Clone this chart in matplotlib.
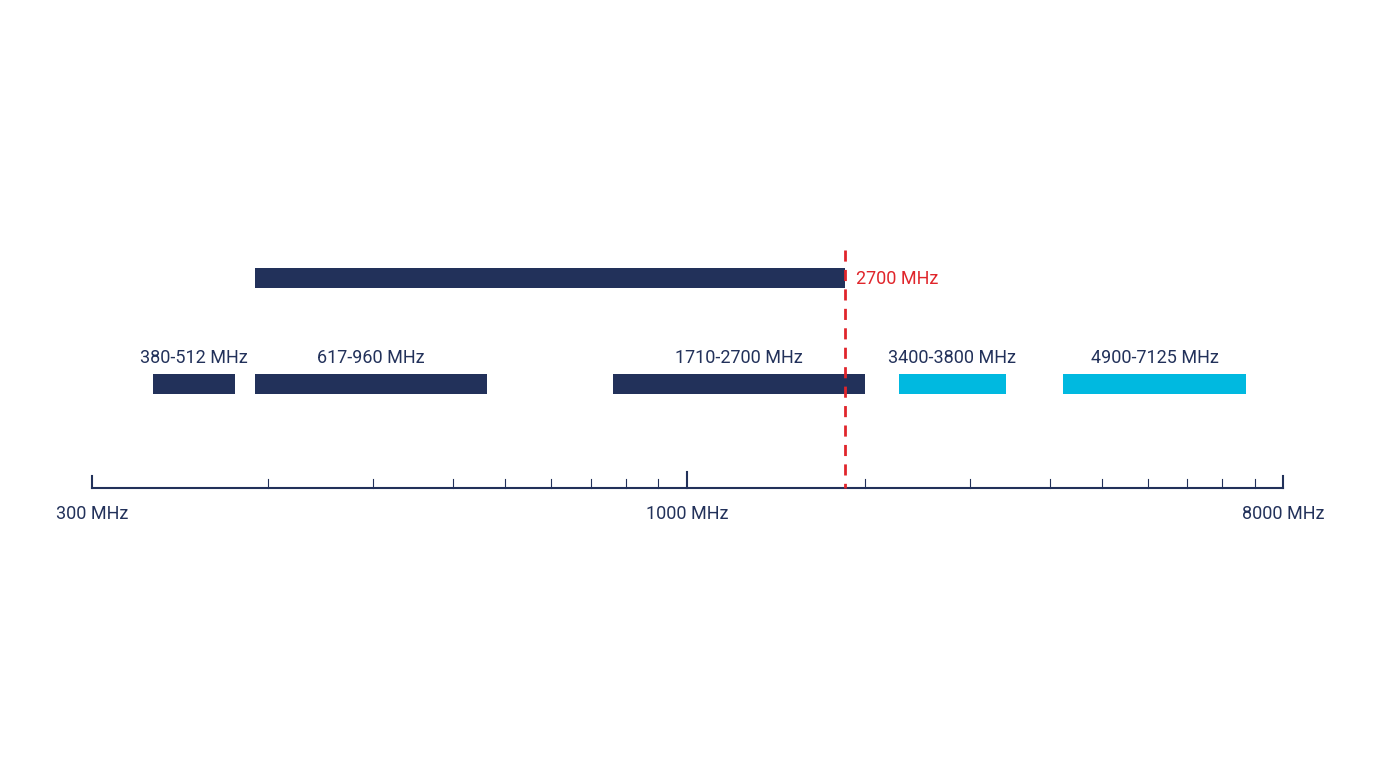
import matplotlib
matplotlib.use("Agg")
import matplotlib.pyplot as plt
from matplotlib.patches import Rectangle

# Schematic (non-proportional) band layout, positions in layout units
band_labels = ["380-512 MHz", "617-960 MHz", "1710-2700 MHz", "3400-3800 MHz", "4900-7125 MHz"]
band_start = [153, 255, 613, 899, 1063]
band_end = [235, 487, 865, 1006, 1246]
band_color = ["#22315a", "#22315a", "#22315a", "#00b9e0", "#00b9e0"]
top_start, top_end = 255, 845
limit_label = "2700 MHz"
limit_pos = 845
axis_labels = ["300 MHz", "1000 MHz", "8000 MHz"]
axis_pos = [92, 687, 1283]
minor_pos = [268, 373, 453, 505, 551, 591, 626, 658, 865, 970, 1050, 1102, 1148, 1187, 1222, 1255]

navy = "#22315a"
fig = plt.figure(figsize=(13.76, 7.68), dpi=100)
ax = fig.add_axes([0, 0, 1, 1])
ax.set_xlim(0, 1376); ax.set_ylim(768, 0); ax.axis("off")

ax.add_patch(Rectangle((top_start, 268), top_end - top_start, 20, color=navy, lw=0))
for l, s, e, c in zip(band_labels, band_start, band_end, band_color):
    ax.add_patch(Rectangle((s, 374), e - s, 20, color=c, lw=0))
    ax.text((s + e) / 2, 358, l, ha="center", va="center", fontsize=13, color=navy, family="Roboto")

ax.plot([axis_pos[0], axis_pos[-1]], [488, 488], color=navy, lw=1.5)
for p in minor_pos:
    ax.plot([p, p], [479, 488], color=navy, lw=0.8)
for p, l in zip(axis_pos, axis_labels):
    ax.plot([p, p], [476 if p != 687 else 472, 488], color=navy, lw=1.5)
    ax.text(p, 514, l, ha="center", va="center", fontsize=13, color=navy, family="Roboto")

ax.plot([limit_pos, limit_pos], [250, 488], color="#e0252b", lw=2, ls=(0, (4, 3)))
ax.text(limit_pos + 11, 279, limit_label, ha="left", va="center", fontsize=13, color="#e0252b", family="Roboto")

fig.savefig("out.png", dpi=100, facecolor="white")
